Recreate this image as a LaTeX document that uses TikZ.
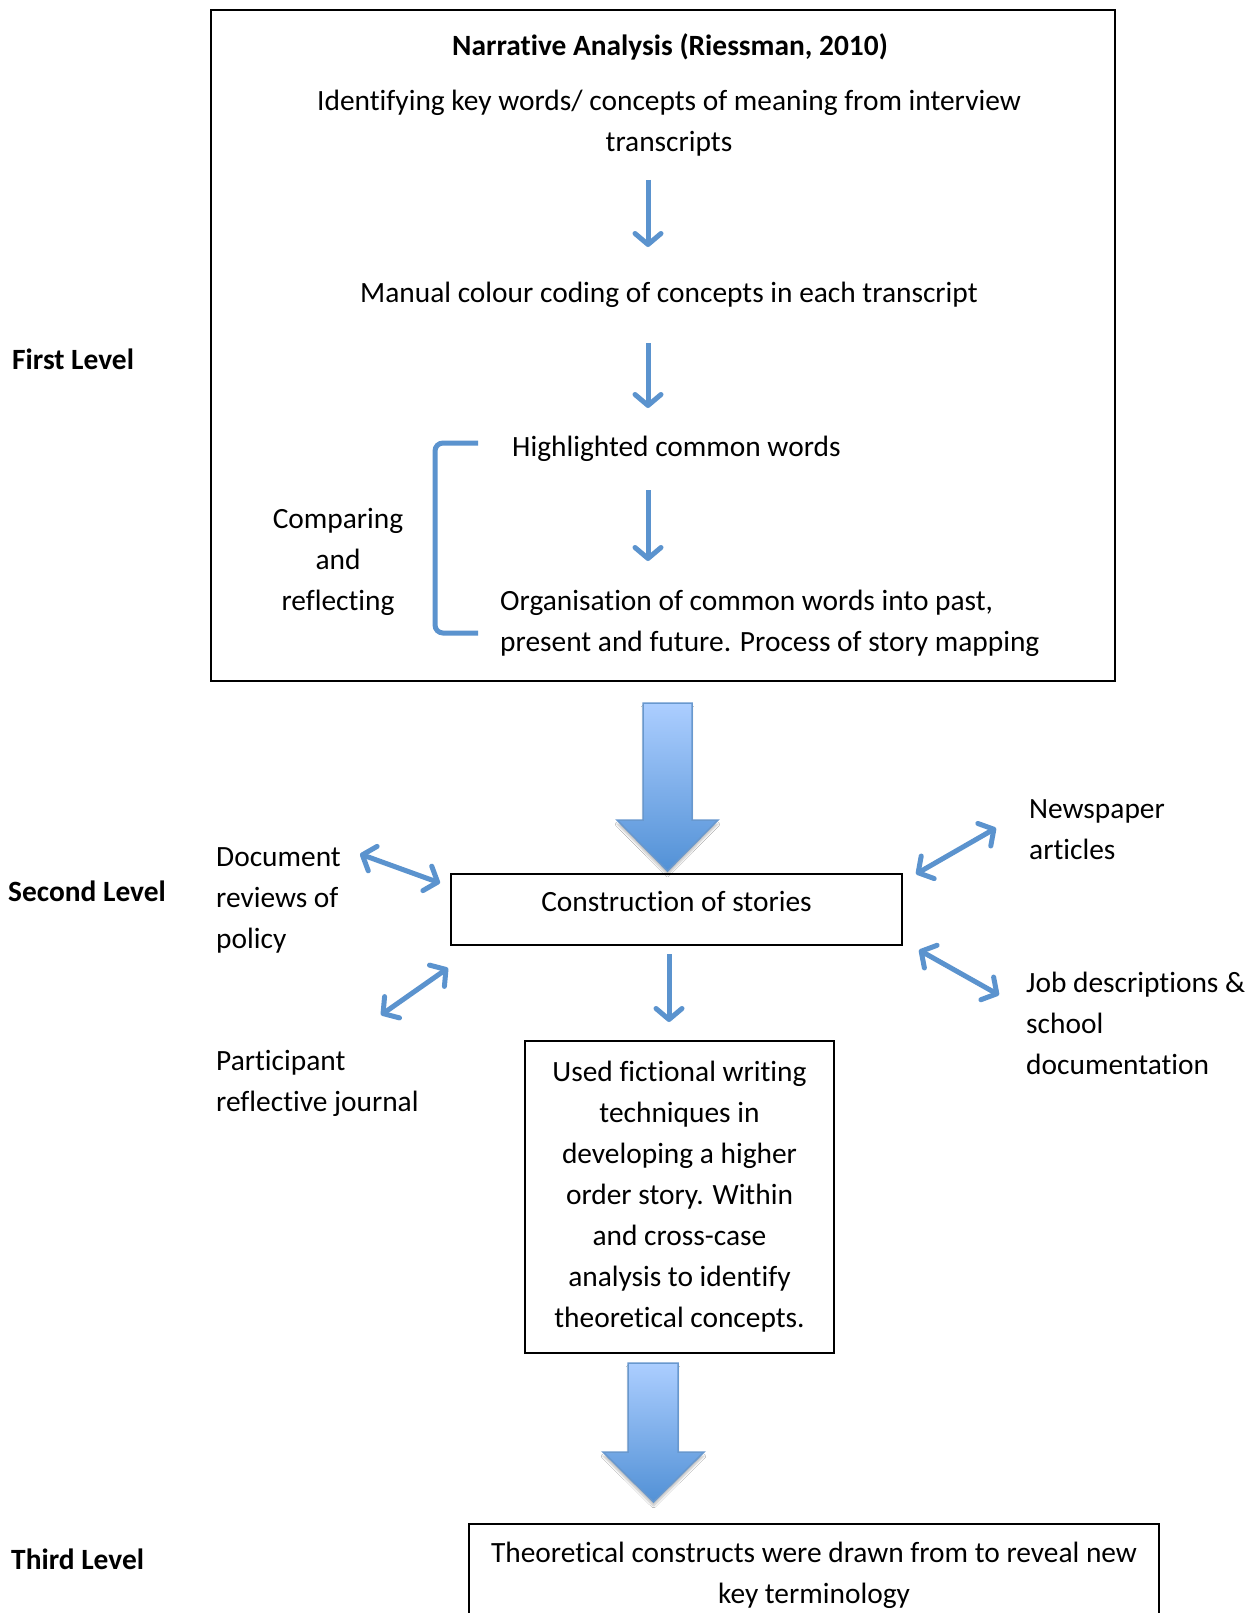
\documentclass[tikz,border=0pt]{standalone}
\usepackage{fontspec}
\setmainfont{Carlito}[Ligatures=NoCommon]
\usetikzlibrary{arrows.meta,shadows.blur}

\definecolor{flowblue}{RGB}{91,147,206}
\definecolor{arrowtop}{RGB}{172,206,255}
\definecolor{arrowbot}{RGB}{82,145,214}
\definecolor{arrowedge}{RGB}{104,152,206}

\newcommand{\bodyfont}{\fontsize{29.4}{41}\selectfont}

\tikzset{
  body/.style={font=\bodyfont, inner sep=0pt},
  levellabel/.style={font=\bodyfont\bfseries, inner sep=0pt, anchor=west},
  framebox/.style={draw=black, line width=2pt, inner sep=0pt},
  barb/.tip={Straight Barb[length=11pt,width=26pt,round]},
  flow/.style={draw=flowblue, line width=5pt, -barb},
  link/.style={draw=flowblue, line width=5pt, barb-barb},
  bigarrow/.style={draw=arrowedge, line width=1.5pt, top color=arrowtop, bottom color=arrowbot,
    blur shadow={shadow xshift=0pt, shadow yshift=-4pt, shadow blur steps=6, shadow opacity=25}},
  bracketline/.style={draw=flowblue, line width=5pt, rounded corners=8pt}
}

\begin{document}
\begin{tikzpicture}[x=1pt, y=-1pt]
\useasboundingbox[fill=white] (0,0) rectangle (1251,1613);

% ---------- first level ----------
\node[framebox, minimum width=904pt, minimum height=671pt] (stage1) at (663,345.5) {};
\node[body, font=\bodyfont\bfseries] (title) at (670,47) {Narrative Analysis (Riessman, 2010)};
\node[body, align=center] (ident) at (669,123) {Identifying key words/ concepts of meaning from interview\\transcripts};
\node[body] (manual) at (669,295) {Manual colour coding of concepts in each transcript};
\node[body, anchor=west] (highl) at (512,449) {Highlighted common words};
\node[body, anchor=west, align=left] (organ) at (500,623.5) {Organisation of common words into past,\\present and future. Process of story mapping};
\node[body, align=center] (compare) at (338,562) {Comparing\\and\\reflecting};
\node[levellabel] (lvl1) at (12,359) {First Level};

\coordinate (a1s) at (648,180);  \coordinate (a1e) at (648,247);
\coordinate (a2s) at (648,343);  \coordinate (a2e) at (648,408);
\coordinate (a3s) at (648,490);  \coordinate (a3e) at (648,561);
\draw[flow] (a1s) -- (a1e);
\draw[flow] (a2s) -- (a2e);
\draw[flow] (a3s) -- (a3e);

% bracket grouping the comparing stage
\draw[bracketline] (478,443) -- (435,443) -- (435,633) -- (478,633);

% ---------- second level ----------
\path[bigarrow] (643,703) -- (692,703) -- (692,820) -- (718,820) -- (667.5,871) -- (617,820) -- (643,820) -- cycle;

\node[framebox, minimum width=451pt, minimum height=71pt, font=\bodyfont, text height=18pt, text depth=15pt] (stories) at (676.5,909.5) {Construction of stories};
\node[levellabel] (lvl2) at (8,891) {Second Level};

\node[body, anchor=west, align=left] (docs) at (216,900) {Document\\reviews of\\policy};
\node[body, anchor=west, align=left] (journal) at (216,1083) {Participant\\reflective journal};
\node[body, anchor=west, align=left] (news) at (1029,830) {Newspaper\\articles};
\node[body, anchor=west, align=left] (jobs) at (1026,1023) {Job descriptions \&\\school\\documentation};

\coordinate (d1) at (360,854);  \coordinate (d2) at (440,883);
\coordinate (j1) at (381,1015); \coordinate (j2) at (448,968);
\coordinate (n1) at (916,874);  \coordinate (n2) at (996,828);
\coordinate (b1) at (919,950);  \coordinate (b2) at (999,995);
\draw[link] (d1) -- (d2);
\draw[link] (j1) -- (j2);
\draw[link] (n1) -- (n2);
\draw[link] (b1) -- (b2);

\coordinate (a4s) at (669,954); \coordinate (a4e) at (669,1022);
\draw[flow] (a4s) -- (a4e);

\node[framebox, minimum width=309pt, minimum height=312pt, align=center, font=\bodyfont] (fiction) at (679.5,1197)
  {Used fictional writing\\techniques in\\developing a higher\\order story. Within\\and cross-case\\analysis to identify\\theoretical concepts.};

% ---------- third level ----------
\path[bigarrow] (628,1363) -- (678,1363) -- (678,1452) -- (704,1452) -- (653.5,1502) -- (603,1452) -- (628,1452) -- cycle;

\node[framebox, minimum width=690pt, minimum height=122pt] (stage3) at (814,1585) {};
\node[body, align=center] (constructs) at (814,1575) {Theoretical constructs were drawn from to reveal new\\key terminology};
\node[levellabel] (lvl3) at (11,1559) {Third Level};
\end{tikzpicture}
\end{document}
